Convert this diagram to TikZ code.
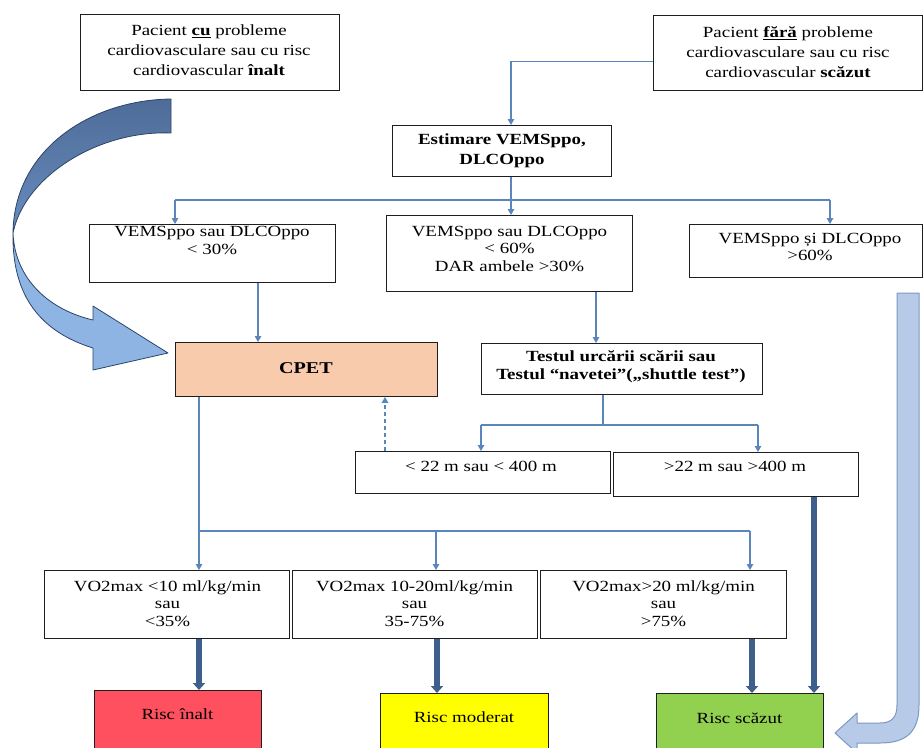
\documentclass[tikz,border=0pt]{standalone}
\usepackage{fontspec}
\setmainfont{Liberation Serif}[FakeStretch=1.22]
\usetikzlibrary{arrows.meta,calc}
\definecolor{conncol}{RGB}{91,134,187}
\definecolor{thickcol}{RGB}{62,94,140}
\definecolor{boxline}{RGB}{30,30,30}
\definecolor{cpetfill}{RGB}{248,203,173}
\definecolor{riscred}{RGB}{255,80,96}
\definecolor{riscyellow}{RGB}{255,255,0}
\definecolor{riscgreen}{RGB}{146,208,80}
\definecolor{darkarrowtop}{RGB}{78,108,152}
\definecolor{darkarrowbot}{RGB}{104,140,190}
\definecolor{lightarrow}{RGB}{141,180,227}
\definecolor{jfill}{RGB}{183,203,232}
\definecolor{jline}{RGB}{125,152,192}
\definecolor{arrline}{RGB}{44,68,104}
\begin{document}
\begin{tikzpicture}[x=1pt,y=-1pt,
  box/.style={draw=boxline, line width=0.9pt, rectangle, inner sep=0pt, anchor=north west},
  txt/.style={align=center, inner sep=0pt, font=\fontsize{15.5}{17.5}\selectfont},
  txttop/.style={align=center, inner sep=0pt, font=\fontsize{15.5}{20}\selectfont},
  conn/.style={draw=conncol, line width=1.2pt},
  arr/.style={conn, color=conncol, -{Triangle[length=6pt,width=6.5pt]}},
  dasharr/.style={arr, dash pattern=on 4pt off 3pt},
  heavyarr/.style={draw=thickcol, color=thickcol, line width=5.5pt, -{Triangle[length=7pt,width=12pt]}},
  bigarrow/.style={draw=arrline, line width=0.8pt, line join=round}
]
\fill[white] (0,0) rectangle (923,747);
\clip (0,0) rectangle (923,747);

% boxes
\node[box, minimum width=259pt, minimum height=76pt] (A) at (80,14) {};
\node[box, minimum width=269pt, minimum height=75pt] (B) at (653,15) {};
\node[box, minimum width=219pt, minimum height=51pt] (E) at (392,125) {};
\node[box, minimum width=246pt, minimum height=58pt] (V1) at (89,224) {};
\node[box, minimum width=246pt, minimum height=76pt] (V2) at (386,215) {};
\node[box, minimum width=233pt, minimum height=53pt] (V3) at (689,224) {};
\node[box, fill=cpetfill, minimum width=262pt, minimum height=54pt] (CPET) at (175,342) {};
\node[box, minimum width=281pt, minimum height=51pt] (T) at (481,343) {};
\node[box, minimum width=255pt, minimum height=42pt] (L1) at (355,451) {};
\node[box, minimum width=245pt, minimum height=44pt] (L2) at (613,452) {};
\node[box, minimum width=245pt, minimum height=68pt] (O1) at (44,570) {};
\node[box, minimum width=245pt, minimum height=68pt] (O2) at (292,570) {};
\node[box, minimum width=246pt, minimum height=68pt] (O3) at (540,570) {};
\node[box, fill=riscred, minimum width=167pt, minimum height=70pt] (R1) at (94,690) {};
\node[box, fill=riscyellow, minimum width=168pt, minimum height=70pt] (R2) at (380,693) {};
\node[box, fill=riscgreen, minimum width=167pt, minimum height=70pt] (R3) at (656,693) {};

% texts
\node[txttop] (At) at (209,50.5) {Pacient \underline{\textbf{cu}} probleme\\cardiovasculare sau cu risc\\cardiovascular \textbf{înalt}};
\node[txttop] (Bt) at (788,52) {Pacient \underline{\textbf{fără}} probleme\\cardiovasculare sau cu risc\\cardiovascular \textbf{scăzut}};
\node[txttop, font=\fontsize{15.5}{20}\selectfont\bfseries] (Et) at (502,151) {Estimare VEMSppo,\\DLCOppo};
\node[txt] (V1t) at (212,240.5) {VEMSppo sau DLCOppo\\< 30\%};
\node[txt] (V2t) at (509.5,248.5) {VEMSppo sau DLCOppo\\< 60\%\\DAR ambele >30\%};
\node[txt] (V3t) at (810,247) {VEMSppo și DLCOppo\\>60\%};
\node[txt, font=\fontsize{16.5}{18}\selectfont\bfseries] (Ct) at (306,368) {CPET};
\node[txt, font=\fontsize{15.5}{17.5}\selectfont\bfseries] (Tt) at (621,366.5) {Testul urcării scării sau\\Testul “navetei”(„shuttle test”)};
\node[txt] (L1t) at (481,466) {< 22 m sau < 400 m};
\node[txt] (L2t) at (735,466) {>22 m sau >400 m};
\node[txt] (O1t) at (167.5,603.5) {VO2max <10 ml/kg/min\\sau\\<35\%};
\node[txt] (O2t) at (414.5,603.5) {VO2max 10-20ml/kg/min\\sau\\35-75\%};
\node[txt] (O3t) at (663.5,603.5) {VO2max>20 ml/kg/min\\sau\\>75\%};
\node[txt] (R1t) at (177.5,714) {Risc înalt};
\node[txt] (R2t) at (464,717) {Risc moderat};
\node[txt] (R3t) at (739.5,718) {Risc scăzut};

% guide coordinates
\coordinate (gE) at (511,0);
\coordinate (h1) at (175,200);
\coordinate (h2) at (830,200);
\coordinate (g1) at (258,0);
\coordinate (g2) at (596,0);
\coordinate (gT) at (603,0);
\coordinate (k0) at (603,425);
\coordinate (k1) at (481,425);
\coordinate (k2) at (758,425);
\coordinate (gd) at (385,0);
\coordinate (gc) at (199,0);
\coordinate (m0) at (199,531);
\coordinate (m1) at (436,531);
\coordinate (m2) at (750,531);
\coordinate (q1) at (199,0);
\coordinate (q2) at (437,0);
\coordinate (q3) at (752,0);
\coordinate (q4) at (814,0);
\coordinate (bw) at ($(B.west)+(0,8.5)$);

% thin connectors
\draw[arr] (bw) -| (E.north -| gE);
\draw[arr] (E.south -| gE) -- (V2.north -| gE);
\draw[conn] (h1) -- (h2);
\draw[arr] (h1) -- (V1.north -| h1);
\draw[arr] (h2) -- (V3.north -| h2);
\draw[arr] (V1.south -| g1) -- (CPET.north -| g1);
\draw[arr] (V2.south -| g2) -- (T.north -| g2);
\draw[conn] (T.south -| gT) -- (k0);
\draw[conn] (k1) -- (k2);
\draw[arr] (k1) -- (L1.north -| k1);
\draw[arr] (k2) -- (L2.north -| k2);
\draw[dasharr] (L1.north -| gd) -- (CPET.south -| gd);
\draw[arr] (CPET.south -| gc) -- (O1.north -| gc);
\draw[conn] (m0) -- (m2);
\draw[arr] (m1) -- (O2.north -| m1);
\draw[arr] (m2) -- (O3.north -| m2);

% heavy connectors
\draw[heavyarr] (O1.south -| q1) -- (R1.north -| q1);
\draw[heavyarr] (O2.south -| q2) -- (R2.north -| q2);
\draw[heavyarr] (O3.south -| q3) -- (R3.north -| q3);
\draw[heavyarr] (L2.south -| q4) -- (R3.north -| q4);

% big curved arrow (left)
\shade[top color=darkarrowtop, bottom color=darkarrowbot] (171,99) .. controls (90,100) and (14,150) .. (13,233)
   .. controls (25,175) and (100,130) .. (171,133) -- cycle;
\draw[bigarrow] (171,99) .. controls (90,100) and (14,150) .. (13,233)
   .. controls (25,175) and (100,130) .. (171,133) -- cycle;
\filldraw[bigarrow, fill=lightarrow] (13,233) .. controls (15,280) and (50,310) .. (93,320)
   -- (93,306) -- (168,353) -- (93,370) -- (93,348)
   .. controls (35,330) and (12,290) .. (13,233) -- cycle;

% J-shaped arrow (right)
\filldraw[draw=jline, line width=1pt, fill=jfill, line join=round]
  (897,293) -- (919,293) -- (919,705) .. controls (919,733) and (905,743) .. (880,743)
  -- (857,743) -- (857,753) -- (835,733) -- (857,713) -- (857,723) -- (880,723)
  .. controls (892,723) and (897,717) .. (897,705) -- cycle;
\end{tikzpicture}
\end{document}
